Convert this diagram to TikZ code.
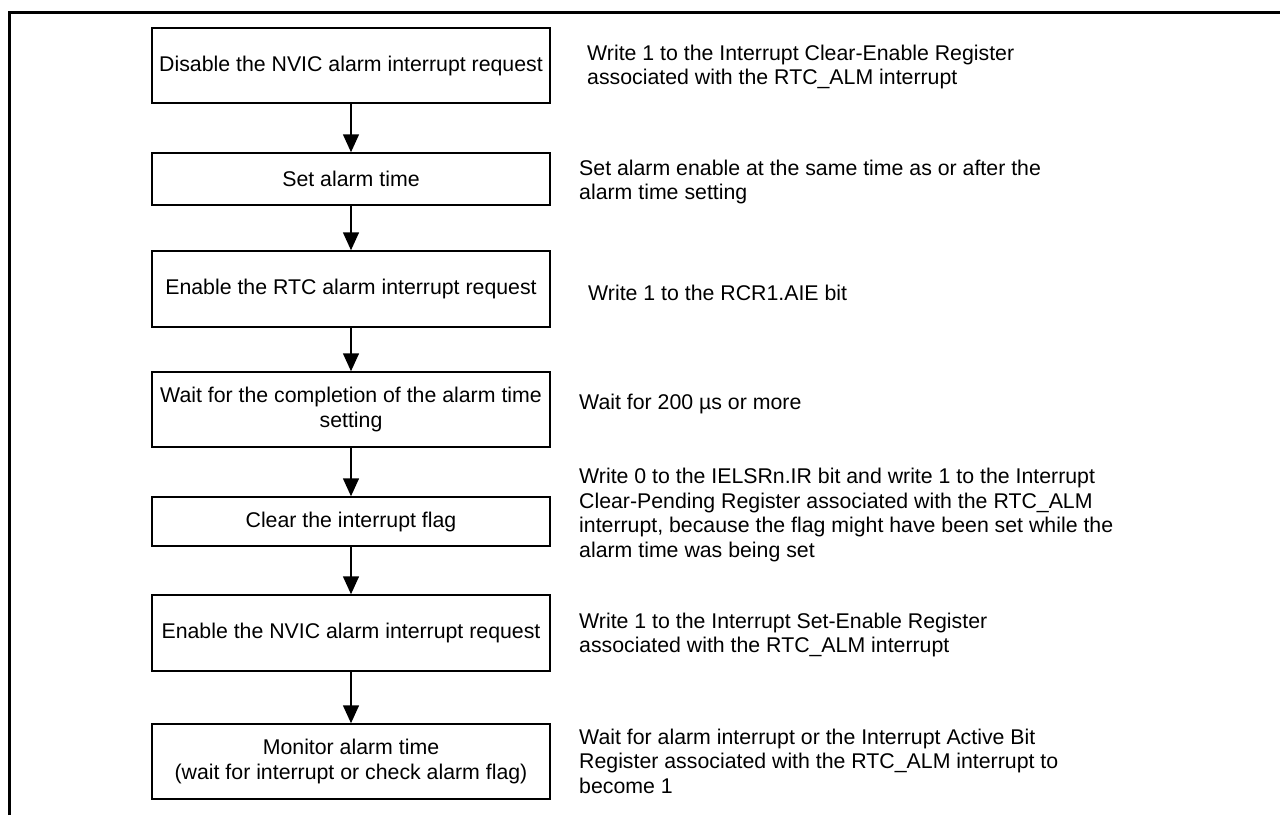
\documentclass[tikz,border=0pt]{standalone}
\usepackage{fontspec}
\setmainfont{Liberation Sans}
\usetikzlibrary{arrows.meta}
\tikzset{
  stepbox/.style={draw, line width=1.5pt, minimum width=398pt, inner sep=0pt,
    align=center, font=\fontsize{21.3}{24.5}\selectfont},
  note/.style={anchor=west, align=left, inner sep=0pt,
    font=\fontsize{21.3}{24.5}\selectfont},
  flow/.style={line width=1.5pt, -{Triangle[length=18pt,width=16pt]}}
}
\begin{document}
\begin{tikzpicture}[x=1pt,y=-1pt]
  \useasboundingbox (0,0) rectangle (1280,815);
  % frame
  \draw[line width=3pt] (9,815) -- (9,12) -- (1280,12);
  % steps
  \node[stepbox, minimum height=75pt] (s1) at (351,65.5) {Disable the NVIC alarm interrupt request};
  \node[stepbox, minimum height=52pt] (s2) at (351,179) {Set alarm time};
  \node[stepbox, minimum height=76pt] (s3) at (351,289) {Enable the RTC alarm interrupt request};
  \node[stepbox, minimum height=75pt] (s4) at (351,409.5) {Wait for the completion of the alarm time\\ setting};
  \node[stepbox, minimum height=49pt] (s5) at (351,521.5) {Clear the interrupt flag};
  \node[stepbox, minimum height=76pt] (s6) at (351,633) {Enable the NVIC alarm interrupt request};
  \node[stepbox, minimum height=75pt] (s7) at (351,761.5) {Monitor alarm time\\ (wait for interrupt or check alarm flag)};
  \foreach \a/\b in {s1/s2,s2/s3,s3/s4,s4/s5,s5/s6,s6/s7}
    \draw[flow] (\a) -- (\b);
  % notes
  \node[note] (n1) at (587,67) {Write 1 to the Interrupt Clear-Enable Register\\ associated with the RTC\_ALM interrupt};
  \node[note] (n2) at (579,182) {Set alarm enable at the same time as or after the\\ alarm time setting};
  \node[note] (n3) at (588,293) {Write 1 to the RCR1.AIE bit};
  \node[note] (n4) at (579,404) {Wait for 200 µs or more};
  \node[note] (n5) at (579,515) {Write 0 to the IELSRn.IR bit and write 1 to the Interrupt\\ Clear-Pending Register associated with the RTC\_ALM\\ interrupt, because the flag might have been set while the\\ alarm time was being set};
  \node[note] (n6) at (579,635) {Write 1 to the Interrupt Set-Enable Register\\ associated with the RTC\_ALM interrupt};
  \node[note] (n7) at (579,761) {Wait for alarm interrupt or the Interrupt Active Bit\\ Register associated with the RTC\_ALM interrupt to\\ become 1};
\end{tikzpicture}
\end{document}
